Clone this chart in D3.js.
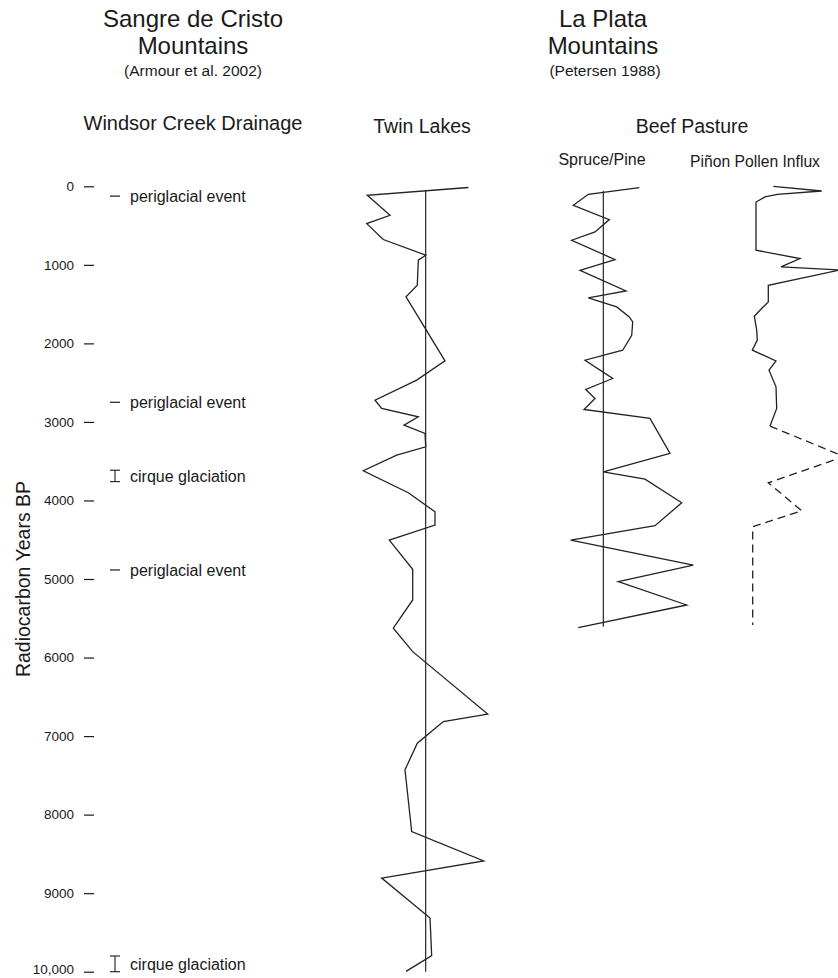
<!DOCTYPE html>
<html>
<head>
<meta charset="utf-8">
<script src="https://cdn.jsdelivr.net/npm/d3@7"></script>
<style>
  body{margin:0;background:#fff;}
  svg text{font-family:"Liberation Sans",Arial,Helvetica,sans-serif;fill:#1a1a1a;}
</style>
</head>
<body>
<svg id="chart"></svg>
<script>
// radiocarbon years BP
const yearTicks = d3.range(0, 10001, 1000);

// Windsor Creek Drainage events
const eventLabels = ["periglacial event","periglacial event","cirque glaciation","periglacial event","cirque glaciation"];
const eventStart = [125, 2750, 3615, 4885, 9800];
const eventEnd   = [125, 2750, 3760, 4885, 10000];

// Twin Lakes (departure from mean)
const twinYears  = [15,115,369,475,678,878,941,1260,1408,2223,2468,2723,2828,2935,3041,3146,3317,3422,3622,3902,4144,4313,4504,4877,5267,5627,5925,6720,6815,7090,7430,8215,8590,8808,9316,9796,9996];
const twinValues = [42.6,-58.4,-35.7,-59,-42.4,0,-7.4,-8.4,-19.7,19.3,-9,-50.7,-44,-7.4,-21.7,-0.7,0,-29,-62.4,-17.4,9.3,9.3,-36.4,-13,-13,-32.4,-13,62,17.6,-8.4,-20.7,-14,58,-44,4.3,6,-19.7];

// Beef Pasture spruce/pine ratio (departure)
const spruceYears  = [17,102,242,424,581,687,933,1069,1332,1421,1536,1663,1726,1896,2087,2214,2447,2587,2701,2841,2955,3401,3635,3728,4029,4322,4504,4822,5034,5331,5620];
const spruceValues = [36,-15,-30,6,-8.3,-31.6,11.7,-23.3,22.7,-15,13.4,26,29.4,28.4,19.4,-18.3,9.4,-17.6,-8.3,-19.3,46.7,66.7,0,41.7,78.4,51.7,-32.6,90,15,83.4,-25];

// Beef Pasture pinon pollen influx
const pinonYears  = [0,60,102,136,200,814,920,1027,1066,1260,1472,1556,1654,1832,1959,2087,2223,2341,2553,2828,3053];
const pinonValues = [21.3,69.7,25.3,13,4,4,48,29,88,16.3,16.3,9.7,2.3,4.7,5.3,0.3,24,17,24,24.7,18];
const pinonDashYears  = [3053,3441,3775,4131,4335,5585];
const pinonDashValues = [18,92,16.3,49.7,0.7,0.7];

const width = 838, height = 978;
const svg = d3.select("#chart").attr("width", width).attr("height", height);

const y = d3.scaleLinear().domain([0, 10000]).range([186.3, 971.7]);
const xTwin = d3.scaleLinear().domain([-60, 60]).range([365.7, 485.7]);
const xSpruce = d3.scaleLinear().domain([-30, 90]).range([573.3, 693.3]);
const xPinon = d3.scaleLinear().domain([0, 100]).range([752, 852]);

// headings
const heads = [
  {t:"Sangre de Cristo", x:193, y:27, s:24},
  {t:"Mountains", x:193, y:54, s:24},
  {t:"(Armour et al. 2002)", x:193, y:76, s:15.5},
  {t:"La Plata", x:603, y:27, s:24},
  {t:"Mountains", x:603, y:54, s:24},
  {t:"(Petersen 1988)", x:605, y:76, s:15.5},
  {t:"Windsor Creek Drainage", x:193, y:130, s:20},
  {t:"Twin Lakes", x:422, y:133, s:19.5},
  {t:"Beef Pasture", x:692, y:133, s:19.5},
  {t:"Spruce/Pine", x:602, y:165, s:16},
  {t:"Piñon Pollen Influx", x:755, y:167, s:15.7}
];
svg.append("g").selectAll("text").data(heads).join("text")
  .attr("x", d => d.x).attr("y", d => d.y)
  .attr("text-anchor", "middle")
  .style("font-size", d => d.s + "px")
  .text(d => d.t);

// y axis
const axis = svg.append("g")
  .attr("transform", "translate(94,0)")
  .call(d3.axisLeft(y).tickValues(yearTicks).tickSize(10).tickPadding(10)
    .tickFormat(d => d === 10000 ? "10,000" : d));
axis.select(".domain").remove();
axis.selectAll("line").attr("stroke", "#1a1a1a").attr("stroke-width", 1.2);
axis.selectAll("text").style("font-size", "13.5px").attr("fill", "#1a1a1a")
  .style("font-family", '"Liberation Sans",Arial,sans-serif');
// keep the last label inside the picture
axis.selectAll(".tick").filter(d => d === 10000).select("text").attr("dy", "0.1em");

svg.append("text")
  .attr("transform", `translate(30,${y(5000)}) rotate(-90)`)
  .attr("text-anchor", "middle")
  .style("font-size", "19.5px")
  .text("Radiocarbon Years BP");

// Windsor Creek events
const ev = svg.append("g");
eventLabels.forEach((lab, i) => {
  const y0 = y(eventStart[i]), y1 = y(eventEnd[i]);
  const mid = (y0 + y1) / 2;
  if (eventStart[i] === eventEnd[i]) {
    ev.append("line").attr("x1", 110).attr("x2", 120).attr("y1", y0).attr("y2", y0)
      .attr("stroke", "#1a1a1a").attr("stroke-width", 1.2);
  } else {
    const g = ev.append("g").attr("stroke", "#1a1a1a").attr("stroke-width", 1.1);
    g.append("line").attr("x1", 115).attr("x2", 115).attr("y1", y0).attr("y2", y1);
    g.append("line").attr("x1", 110).attr("x2", 120).attr("y1", y0).attr("y2", y0);
    g.append("line").attr("x1", 110).attr("x2", 120).attr("y1", y1).attr("y2", y1);
  }
  ev.append("text").attr("x", 130).attr("y", Math.min(mid + 6, 974))
    .style("font-size", "16px").text(lab);
});

// reference lines
svg.append("line").attr("x1", xTwin(0)).attr("x2", xTwin(0))
  .attr("y1", y(55)).attr("y2", y(10000))
  .attr("stroke", "#111").attr("stroke-width", 1.1);
svg.append("line").attr("x1", xSpruce(0)).attr("x2", xSpruce(0))
  .attr("y1", y(60)).attr("y2", y(5608))
  .attr("stroke", "#111").attr("stroke-width", 1.1);

function drawCurve(years, values, xs, dash) {
  const pts = years.map((yr, i) => [xs(values[i]), y(yr)]);
  svg.append("path")
    .attr("d", d3.line()(pts))
    .attr("fill", "none")
    .attr("stroke", "#222")
    .attr("stroke-width", 1.3)
    .attr("stroke-linejoin", "miter")
    .attr("stroke-dasharray", dash || null);
}
drawCurve(twinYears, twinValues, xTwin);
drawCurve(spruceYears, spruceValues, xSpruce);
drawCurve(pinonYears, pinonValues, xPinon);
drawCurve(pinonDashYears, pinonDashValues, xPinon, "8,5");
</script>
</body>
</html>
